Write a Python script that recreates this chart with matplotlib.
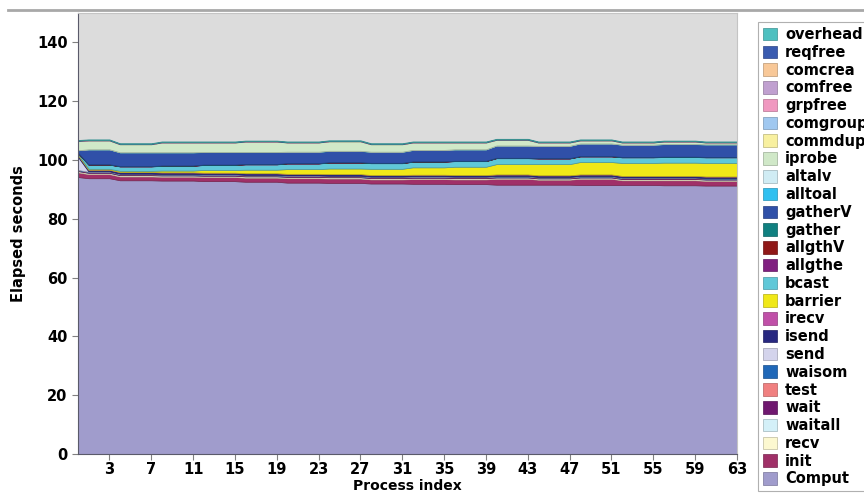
import numpy as np
import matplotlib.pyplot as plt
from matplotlib.colors import to_rgb
from matplotlib.lines import Line2D

# elapsed seconds per MPI routine, one value per process (0..63)
procs = np.arange(64)

comput = [94.2, 93.8, 93.8, 93.8, 93.1, 93.1, 93.1, 93.1, 93.0, 93.0, 93.0, 93.0, 92.8, 92.8, 92.8, 92.8,
          92.6, 92.6, 92.6, 92.6, 92.3, 92.3, 92.3, 92.3, 92.2, 92.2, 92.2, 92.2, 92.0, 92.0, 92.0, 92.0,
          91.9, 91.9, 91.9, 91.9, 91.8, 91.8, 91.8, 91.8, 91.6, 91.6, 91.6, 91.6, 91.6, 91.6, 91.6, 91.6,
          91.5, 91.5, 91.5, 91.5, 91.5, 91.5, 91.5, 91.5, 91.4, 91.4, 91.4, 91.4, 91.3, 91.3, 91.3, 91.3]
init = [1.6, 1.4, 1.4, 1.4, 1.3, 1.3, 1.3, 1.3, 1.3, 1.3, 1.3, 1.3, 1.4, 1.4, 1.4, 1.4,
        1.4, 1.4, 1.4, 1.4, 1.5, 1.5, 1.5, 1.5, 1.5, 1.5, 1.5, 1.5, 1.4, 1.4, 1.4, 1.4,
        1.6, 1.6, 1.6, 1.6, 1.6, 1.6, 1.6, 1.6, 2.0, 2.0, 2.0, 2.0, 1.7, 1.7, 1.7, 1.7,
        2.1, 2.1, 2.1, 2.1, 1.6, 1.6, 1.6, 1.6, 1.7, 1.7, 1.7, 1.7, 1.6, 1.6, 1.6, 1.6]
recv = [0.4, 0.4, 0.4, 0.4, 0.4, 0.4, 0.4, 0.4, 0.4, 0.4, 0.4, 0.4, 0.4, 0.4, 0.4, 0.4,
        0.4, 0.4, 0.4, 0.4, 0.4, 0.4, 0.4, 0.4, 0.4, 0.4, 0.4, 0.4, 0.4, 0.4, 0.4, 0.4,
        0.4, 0.4, 0.4, 0.4, 0.4, 0.4, 0.4, 0.4, 0.4, 0.4, 0.4, 0.4, 0.4, 0.4, 0.4, 0.4,
        0.4, 0.4, 0.4, 0.4, 0.4, 0.4, 0.4, 0.4, 0.4, 0.4, 0.4, 0.4, 0.4, 0.4, 0.4, 0.4]
waitall = [0.04, 0.04, 0.04, 0.04, 0.04, 0.04, 0.04, 0.04, 0.04, 0.04, 0.04, 0.04, 0.04, 0.04, 0.04, 0.04,
           0.04, 0.04, 0.04, 0.04, 0.04, 0.04, 0.04, 0.04, 0.04, 0.04, 0.04, 0.04, 0.04, 0.04, 0.04, 0.04,
           0.04, 0.04, 0.04, 0.04, 0.04, 0.04, 0.04, 0.04, 0.04, 0.04, 0.04, 0.04, 0.04, 0.04, 0.04, 0.04,
           0.04, 0.04, 0.04, 0.04, 0.04, 0.04, 0.04, 0.04, 0.04, 0.04, 0.04, 0.04, 0.04, 0.04, 0.04, 0.04]
wait = [0.25, 0.25, 0.25, 0.25, 0.25, 0.25, 0.25, 0.25, 0.25, 0.25, 0.25, 0.25, 0.25, 0.25, 0.25, 0.25,
        0.25, 0.25, 0.25, 0.25, 0.25, 0.25, 0.25, 0.25, 0.25, 0.25, 0.25, 0.25, 0.25, 0.25, 0.25, 0.25,
        0.25, 0.25, 0.25, 0.25, 0.25, 0.25, 0.25, 0.25, 0.25, 0.25, 0.25, 0.25, 0.25, 0.25, 0.25, 0.25,
        0.25, 0.25, 0.25, 0.25, 0.25, 0.25, 0.25, 0.25, 0.25, 0.25, 0.25, 0.25, 0.25, 0.25, 0.25, 0.25]
test = [0.03, 0.03, 0.03, 0.03, 0.03, 0.03, 0.03, 0.03, 0.03, 0.03, 0.03, 0.03, 0.03, 0.03, 0.03, 0.03,
        0.03, 0.03, 0.03, 0.03, 0.03, 0.03, 0.03, 0.03, 0.03, 0.03, 0.03, 0.03, 0.03, 0.03, 0.03, 0.03,
        0.03, 0.03, 0.03, 0.03, 0.03, 0.03, 0.03, 0.03, 0.03, 0.03, 0.03, 0.03, 0.03, 0.03, 0.03, 0.03,
        0.03, 0.03, 0.03, 0.03, 0.03, 0.03, 0.03, 0.03, 0.03, 0.03, 0.03, 0.03, 0.03, 0.03, 0.03, 0.03]
waisom = [0.1, 0.1, 0.1, 0.1, 0.1, 0.1, 0.1, 0.1, 0.1, 0.1, 0.1, 0.1, 0.1, 0.1, 0.1, 0.1,
          0.1, 0.1, 0.1, 0.1, 0.1, 0.1, 0.1, 0.1, 0.1, 0.1, 0.1, 0.1, 0.1, 0.1, 0.1, 0.1,
          0.1, 0.1, 0.1, 0.1, 0.1, 0.1, 0.1, 0.1, 0.1, 0.1, 0.1, 0.1, 0.1, 0.1, 0.1, 0.1,
          0.1, 0.1, 0.1, 0.1, 0.1, 0.1, 0.1, 0.1, 0.1, 0.1, 0.1, 0.1, 0.1, 0.1, 0.1, 0.1]
send = [4.4, 0.1, 0.1, 0.1, 0.1, 0.1, 0.1, 0.1, 0.1, 0.1, 0.1, 0.1, 0.1, 0.1, 0.1, 0.1,
        0.1, 0.1, 0.1, 0.1, 0.1, 0.1, 0.1, 0.1, 0.1, 0.1, 0.1, 0.1, 0.1, 0.1, 0.1, 0.1,
        0.1, 0.1, 0.1, 0.1, 0.1, 0.1, 0.1, 0.1, 0.1, 0.1, 0.1, 0.1, 0.1, 0.1, 0.1, 0.1,
        0.1, 0.1, 0.1, 0.1, 0.1, 0.1, 0.1, 0.1, 0.1, 0.1, 0.1, 0.1, 0.1, 0.1, 0.1, 0.1]
isend = [0.55, 0.55, 0.55, 0.55, 0.55, 0.55, 0.55, 0.55, 0.55, 0.55, 0.55, 0.55, 0.55, 0.55, 0.55, 0.55,
         0.55, 0.55, 0.55, 0.55, 0.55, 0.55, 0.55, 0.55, 0.55, 0.55, 0.55, 0.55, 0.55, 0.55, 0.55, 0.55,
         0.55, 0.55, 0.55, 0.55, 0.55, 0.55, 0.55, 0.55, 0.55, 0.55, 0.55, 0.55, 0.55, 0.55, 0.55, 0.55,
         0.55, 0.55, 0.55, 0.55, 0.55, 0.55, 0.55, 0.55, 0.55, 0.55, 0.55, 0.55, 0.55, 0.55, 0.55, 0.55]
irecv = [0.03, 0.03, 0.03, 0.03, 0.03, 0.03, 0.03, 0.03, 0.03, 0.03, 0.03, 0.03, 0.03, 0.03, 0.03, 0.03,
         0.03, 0.03, 0.03, 0.03, 0.03, 0.03, 0.03, 0.03, 0.03, 0.03, 0.03, 0.03, 0.03, 0.03, 0.03, 0.03,
         0.03, 0.03, 0.03, 0.03, 0.03, 0.03, 0.03, 0.03, 0.03, 0.03, 0.03, 0.03, 0.03, 0.03, 0.03, 0.03,
         0.03, 0.03, 0.03, 0.03, 0.03, 0.03, 0.03, 0.03, 0.03, 0.03, 0.03, 0.03, 0.03, 0.03, 0.03, 0.03]
barrier = [0.3, 0.3, 0.3, 0.3, 0.4, 0.4, 0.4, 0.4, 0.6, 0.6, 0.6, 0.6, 0.9, 0.9, 0.9, 0.9,
           1.2, 1.2, 1.2, 1.2, 1.6, 1.6, 1.6, 1.6, 1.9, 1.9, 1.9, 1.9, 2.1, 2.1, 2.1, 2.1,
           2.5, 2.5, 2.5, 2.5, 2.8, 2.8, 2.8, 2.8, 3.5, 3.5, 3.5, 3.5, 3.8, 3.8, 3.8, 3.8,
           4.2, 4.2, 4.2, 4.2, 4.4, 4.4, 4.4, 4.4, 4.5, 4.5, 4.5, 4.5, 4.6, 4.6, 4.6, 4.6]
bcast = [0.4, 1.4, 1.4, 1.4, 1.5, 1.5, 1.5, 1.5, 1.6, 1.6, 1.6, 1.6, 1.7, 1.7, 1.7, 1.7,
         1.8, 1.8, 1.8, 1.8, 1.9, 1.9, 1.9, 1.9, 2.0, 2.0, 2.0, 2.0, 1.9, 1.9, 1.9, 1.9,
         1.9, 1.9, 1.9, 1.9, 1.9, 1.9, 1.9, 1.9, 2.0, 2.0, 2.0, 2.0, 1.9, 1.9, 1.9, 1.9,
         1.9, 1.9, 1.9, 1.9, 1.9, 1.9, 1.9, 1.9, 1.9, 1.9, 1.9, 1.9, 1.9, 1.9, 1.9, 1.9]
allgthe = [0.05, 0.05, 0.05, 0.05, 0.05, 0.05, 0.05, 0.05, 0.05, 0.05, 0.05, 0.05, 0.05, 0.05, 0.05, 0.05,
           0.05, 0.05, 0.05, 0.05, 0.05, 0.05, 0.05, 0.05, 0.05, 0.05, 0.05, 0.05, 0.05, 0.05, 0.05, 0.05,
           0.05, 0.05, 0.05, 0.05, 0.05, 0.05, 0.05, 0.05, 0.05, 0.05, 0.05, 0.05, 0.05, 0.05, 0.05, 0.05,
           0.05, 0.05, 0.05, 0.05, 0.05, 0.05, 0.05, 0.05, 0.05, 0.05, 0.05, 0.05, 0.05, 0.05, 0.05, 0.05]
allgthV = [0.05, 0.05, 0.05, 0.05, 0.05, 0.05, 0.05, 0.05, 0.05, 0.05, 0.05, 0.05, 0.05, 0.05, 0.05, 0.05,
           0.05, 0.05, 0.05, 0.05, 0.05, 0.05, 0.05, 0.05, 0.05, 0.05, 0.05, 0.05, 0.05, 0.05, 0.05, 0.05,
           0.05, 0.05, 0.05, 0.05, 0.05, 0.05, 0.05, 0.05, 0.05, 0.05, 0.05, 0.05, 0.05, 0.05, 0.05, 0.05,
           0.05, 0.05, 0.05, 0.05, 0.05, 0.05, 0.05, 0.05, 0.05, 0.05, 0.05, 0.05, 0.05, 0.05, 0.05, 0.05]
gather = [0.05, 0.05, 0.05, 0.05, 0.05, 0.05, 0.05, 0.05, 0.05, 0.05, 0.05, 0.05, 0.05, 0.05, 0.05, 0.05,
          0.05, 0.05, 0.05, 0.05, 0.05, 0.05, 0.05, 0.05, 0.05, 0.05, 0.05, 0.05, 0.05, 0.05, 0.05, 0.05,
          0.05, 0.05, 0.05, 0.05, 0.05, 0.05, 0.05, 0.05, 0.05, 0.05, 0.05, 0.05, 0.05, 0.05, 0.05, 0.05,
          0.05, 0.05, 0.05, 0.05, 0.05, 0.05, 0.05, 0.05, 0.05, 0.05, 0.05, 0.05, 0.05, 0.05, 0.05, 0.05]
gatherV = [0.8, 5.0, 5.0, 5.0, 4.6, 4.6, 4.6, 4.6, 4.4, 4.4, 4.4, 4.4, 4.2, 4.2, 4.2, 4.2,
           4.0, 4.0, 4.0, 4.0, 3.8, 3.8, 3.8, 3.8, 3.8, 3.8, 3.8, 3.8, 3.7, 3.7, 3.7, 3.7,
           3.8, 3.8, 3.8, 3.8, 3.8, 3.8, 3.8, 3.8, 4.1, 4.1, 4.1, 4.1, 4.1, 4.1, 4.1, 4.1,
           4.2, 4.2, 4.2, 4.2, 4.1, 4.1, 4.1, 4.1, 4.2, 4.2, 4.2, 4.2, 4.2, 4.2, 4.2, 4.2]
alltoal = [0.05, 0.05, 0.05, 0.05, 0.05, 0.05, 0.05, 0.05, 0.05, 0.05, 0.05, 0.05, 0.05, 0.05, 0.05, 0.05,
           0.05, 0.05, 0.05, 0.05, 0.05, 0.05, 0.05, 0.05, 0.05, 0.05, 0.05, 0.05, 0.05, 0.05, 0.05, 0.05,
           0.05, 0.05, 0.05, 0.05, 0.05, 0.05, 0.05, 0.05, 0.05, 0.05, 0.05, 0.05, 0.05, 0.05, 0.05, 0.05,
           0.05, 0.05, 0.05, 0.05, 0.05, 0.05, 0.05, 0.05, 0.05, 0.05, 0.05, 0.05, 0.05, 0.05, 0.05, 0.05]
altalv = [0.03, 0.03, 0.03, 0.03, 0.03, 0.03, 0.03, 0.03, 0.03, 0.03, 0.03, 0.03, 0.03, 0.03, 0.03, 0.03,
          0.03, 0.03, 0.03, 0.03, 0.03, 0.03, 0.03, 0.03, 0.03, 0.03, 0.03, 0.03, 0.03, 0.03, 0.03, 0.03,
          0.03, 0.03, 0.03, 0.03, 0.03, 0.03, 0.03, 0.03, 0.03, 0.03, 0.03, 0.03, 0.03, 0.03, 0.03, 0.03,
          0.03, 0.03, 0.03, 0.03, 0.03, 0.03, 0.03, 0.03, 0.03, 0.03, 0.03, 0.03, 0.03, 0.03, 0.03, 0.03]
iprobe = [3.1, 3.0, 3.0, 3.0, 2.7, 2.7, 2.7, 2.7, 3.3, 3.3, 3.3, 3.3, 3.2, 3.2, 3.2, 3.2,
          3.5, 3.5, 3.5, 3.5, 3.1, 3.1, 3.1, 3.1, 3.2, 3.2, 3.2, 3.2, 2.5, 2.5, 2.5, 2.5,
          2.5, 2.5, 2.5, 2.5, 2.3, 2.3, 2.3, 2.3, 1.9, 1.9, 1.9, 1.9, 1.1, 1.1, 1.1, 1.1,
          1.0, 1.0, 1.0, 1.0, 0.7, 0.7, 0.7, 0.7, 0.8, 0.8, 0.8, 0.8, 0.6, 0.6, 0.6, 0.6]
# communicator handling is barely measurable on every rank
commdup = [0.03, 0.03, 0.03, 0.03, 0.03, 0.03, 0.03, 0.03, 0.03, 0.03, 0.03, 0.03, 0.03, 0.03, 0.03, 0.03,
           0.03, 0.03, 0.03, 0.03, 0.03, 0.03, 0.03, 0.03, 0.03, 0.03, 0.03, 0.03, 0.03, 0.03, 0.03, 0.03,
           0.03, 0.03, 0.03, 0.03, 0.03, 0.03, 0.03, 0.03, 0.03, 0.03, 0.03, 0.03, 0.03, 0.03, 0.03, 0.03,
           0.03, 0.03, 0.03, 0.03, 0.03, 0.03, 0.03, 0.03, 0.03, 0.03, 0.03, 0.03, 0.03, 0.03, 0.03, 0.03]
comgroup = commdup
grpfree = commdup
comfree = commdup
comcrea = commdup
reqfree = commdup
overhead = [0.2, 0.2, 0.2, 0.2, 0.2, 0.2, 0.2, 0.2, 0.2, 0.2, 0.2, 0.2, 0.2, 0.2, 0.2, 0.2,
            0.2, 0.2, 0.2, 0.2, 0.2, 0.2, 0.2, 0.2, 0.2, 0.2, 0.2, 0.2, 0.2, 0.2, 0.2, 0.2,
            0.2, 0.2, 0.2, 0.2, 0.2, 0.2, 0.2, 0.2, 0.2, 0.2, 0.2, 0.2, 0.2, 0.2, 0.2, 0.2,
            0.2, 0.2, 0.2, 0.2, 0.2, 0.2, 0.2, 0.2, 0.2, 0.2, 0.2, 0.2, 0.2, 0.2, 0.2, 0.2]

# bottom of the stack first
names = ['Comput', 'init', 'recv', 'waitall', 'wait', 'test', 'waisom', 'send',
         'isend', 'irecv', 'barrier', 'bcast', 'allgthe', 'allgthV', 'gather',
         'gatherV', 'alltoal', 'altalv', 'iprobe', 'commdup', 'comgroup',
         'grpfree', 'comfree', 'comcrea', 'reqfree', 'overhead']
series = [comput, init, recv, waitall, wait, test, waisom, send,
          isend, irecv, barrier, bcast, allgthe, allgthV, gather,
          gatherV, alltoal, altalv, iprobe, commdup, comgroup,
          grpfree, comfree, comcrea, reqfree, overhead]
colors = ['#a09ccc', '#a03068', '#fcf8d0', '#d4f0f8', '#701870', '#f08080', '#2068b8', '#d4d4ec',
          '#282880', '#c050a8', '#f0e818', '#60c8d8', '#802080', '#901818', '#108080',
          '#3050a8', '#30c0f0', '#d0ecf4', '#d0e8c8', '#f8f0a0', '#a0c8f0',
          '#f098c0', '#c0a0d0', '#f8c898', '#3a5bb0', '#4ec0c0']

fig = plt.figure(figsize=(8.64, 4.95), dpi=100)
ax = fig.add_axes([0.0903, 0.0828, 0.7627, 0.891])
ax.set_facecolor('#dcdcdc')

polys = ax.stackplot(procs, *series, labels=names, colors=colors, linewidth=0.5)
for poly, c in zip(polys, colors):
    poly.set_edgecolor(tuple(v * 0.75 for v in to_rgb(c)))

ax.set_xlim(0, 63)
ax.set_ylim(0, 150)
ax.set_xticks(np.arange(3, 64, 4))
ax.set_yticks(np.arange(0, 141, 20))
ax.tick_params(axis='both', colors='#808080', length=4, width=0.8,
               labelcolor='black', labelsize=10.5)
ax.tick_params(axis='x', pad=1.5)
for lbl in ax.get_xticklabels() + ax.get_yticklabels():
    lbl.set_fontweight('bold')

for side in ('left', 'bottom'):
    ax.spines[side].set_color('#5a5a6a')
for side in ('top', 'right'):
    ax.spines[side].set_color('#c4c4c4')

ax.set_xlabel('Process index', fontsize=10, fontweight='bold', labelpad=2)
ax.set_ylabel('Elapsed seconds', fontsize=10.5, fontweight='bold', labelpad=8)

handles, labels = ax.get_legend_handles_labels()
leg = fig.legend(handles[::-1], labels[::-1], loc='upper left',
                 bbox_to_anchor=(757.5 / 864, 1 - 22 / 495),
                 bbox_transform=fig.transFigure, borderaxespad=0,
                 labelspacing=0.19, handlelength=1.0,
                 handleheight=0.95, handletextpad=0.55, borderpad=0.35,
                 fancybox=False, framealpha=1, edgecolor='#b0b0b0',
                 prop={'weight': 'bold', 'size': 10.5})
leg.get_frame().set_linewidth(0.8)

# separator rule above the plot
fig.add_artist(Line2D([8 / 864, 1.0], [1 - 10 / 495] * 2,
                      transform=fig.transFigure, color='#a8a8a8', linewidth=2))

fig.savefig('out.png', dpi=100)
